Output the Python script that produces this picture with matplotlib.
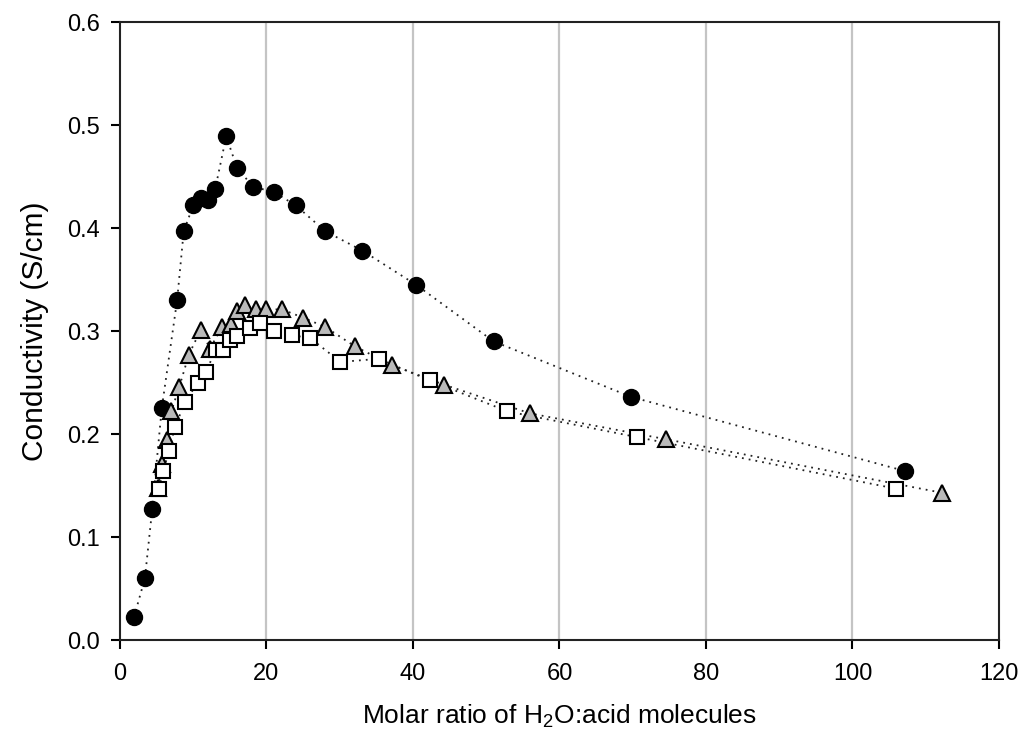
import matplotlib
matplotlib.use("Agg")
import matplotlib.pyplot as plt

plt.rcParams['font.family'] = ['Liberation Sans', 'DejaVu Sans']
plt.rcParams['mathtext.fontset'] = 'custom'
plt.rcParams['mathtext.rm'] = 'Liberation Sans'
plt.rcParams['mathtext.it'] = 'Liberation Sans'
plt.rcParams['mathtext.default'] = 'regular'

# Series 1: filled black circles
circ_x = [1.9, 3.4, 4.4, 5.7, 7.8, 8.7, 10.0, 11.1, 12.0, 13.0, 14.5, 16.0,
          18.2, 21.0, 24.0, 28.0, 33.1, 40.4, 51.0, 69.8, 107.2]
circ_y = [0.022, 0.060, 0.127, 0.225, 0.330, 0.397, 0.422, 0.429, 0.427, 0.438,
          0.489, 0.458, 0.440, 0.435, 0.422, 0.397, 0.378, 0.345, 0.290, 0.236, 0.164]

# Series 2: grey triangles
tri_x = [5.2, 5.7, 6.4, 7.0, 8.1, 9.4, 11.0, 12.3, 13.9, 15.2, 16.0, 17.1,
         18.6, 20.0, 22.1, 25.0, 28.0, 32.1, 37.1, 44.2, 56.0, 74.5, 112.2]
tri_y = [0.148, 0.171, 0.194, 0.222, 0.246, 0.277, 0.301, 0.283, 0.304, 0.307,
         0.319, 0.325, 0.321, 0.321, 0.321, 0.313, 0.304, 0.285, 0.267, 0.248,
         0.220, 0.195, 0.143]

# Series 3: open squares
sq_x = [5.3, 5.9, 6.7, 7.5, 8.9, 10.6, 11.7, 13.1, 14.1, 15.0, 16.0, 17.7,
        19.1, 21.0, 23.5, 26.0, 30.1, 35.3, 42.3, 52.9, 70.6, 105.9]
sq_y = [0.147, 0.164, 0.184, 0.207, 0.231, 0.250, 0.260, 0.282, 0.282, 0.291,
        0.295, 0.303, 0.308, 0.300, 0.296, 0.293, 0.270, 0.273, 0.252, 0.222,
        0.197, 0.147]

xticks = [0, 20, 40, 60, 80, 100, 120]
yticks = [0.0, 0.1, 0.2, 0.3, 0.4, 0.5, 0.6]

fig = plt.figure(figsize=(10.23, 7.47), dpi=100)
ax = fig.add_axes([0.1173, 0.1432, 0.8592, 0.8273])

for v in xticks[1:-1]:
    ax.axvline(v, color='#c4c4c4', lw=1.6, zorder=0)

line_kw = dict(ls=(0, (1, 2.8)), lw=1.3, color='#222222', zorder=1)
ax.plot(sq_x, sq_y, **line_kw)
ax.plot(tri_x, tri_y, **line_kw)
ax.plot(circ_x, circ_y, **line_kw)

ax.plot(circ_x, circ_y, ls='none', marker='o', ms=11.5, mfc='black', mec='black', zorder=3)
ax.plot(tri_x, tri_y, ls='none', marker='^', ms=11.5, mfc='#bababa', mec='black', mew=1.5, zorder=3)
ax.plot(sq_x, sq_y, ls='none', marker='s', ms=10, mfc='white', mec='black', mew=1.5, zorder=3)

ax.set_xlim(0, 120)
ax.set_ylim(0, 0.6)
ax.set_xticks(xticks)
ax.set_yticks(yticks)
ax.set_xticklabels([str(v) for v in xticks])
ax.set_yticklabels([f"{v:.1f}" for v in yticks])
ax.tick_params(direction='out', length=6.5, width=1.5, labelsize=17)
ax.tick_params(axis='y', pad=8)
ax.tick_params(axis='x', pad=10)
for s in ax.spines.values():
    s.set_linewidth(1.5)
    s.set_color('#222222')

ax.set_xlabel(r"Molar ratio of H$_2$O:acid molecules", fontsize=19, labelpad=13)
ax.set_ylabel("Conductivity (S/cm)", fontsize=21.5, labelpad=13)

fig.savefig("out.png", dpi=100)
